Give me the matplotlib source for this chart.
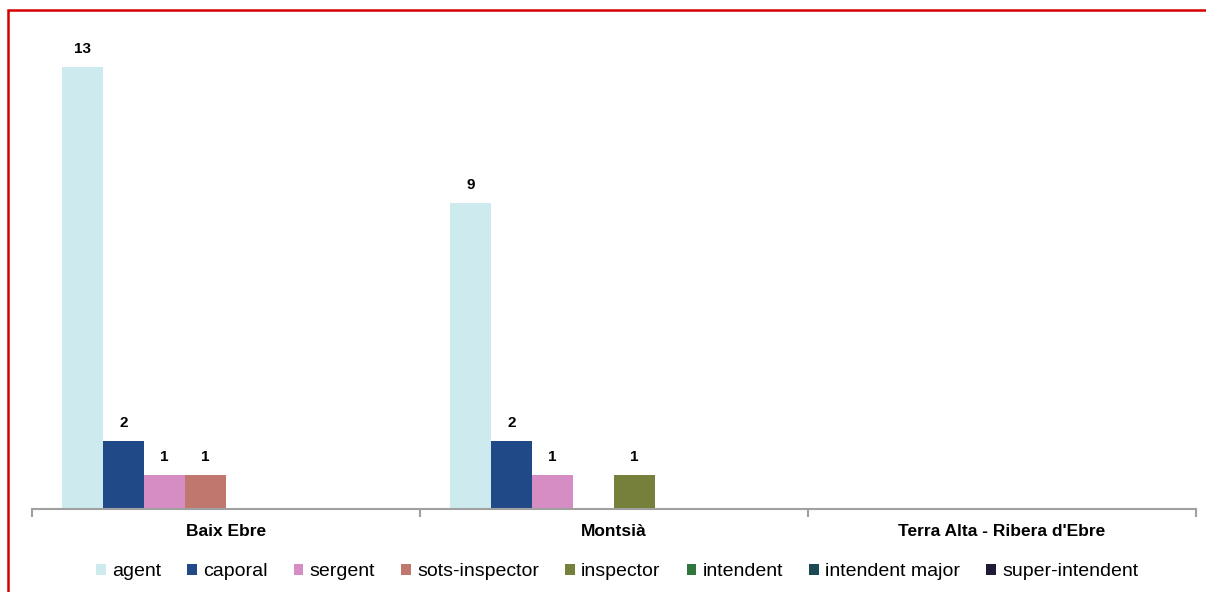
import matplotlib
matplotlib.use('Agg')
import matplotlib.pyplot as plt
import numpy as np
from matplotlib.patches import Rectangle

plt.rcParams['font.family'] = ['Liberation Sans', 'DejaVu Sans']

categories = ['Baix Ebre', 'Montsià', "Terra Alta - Ribera d'Ebre"]
ranks = ['agent', 'caporal', 'sergent', 'sots-inspector', 'inspector',
         'intendent', 'intendent major', 'super-intendent']
agent = [13, 9, 0]
caporal = [2, 2, 0]
sergent = [1, 1, 0]
sots_inspector = [1, 0, 0]
inspector = [0, 1, 0]
intendent = [0, 0, 0]
intendent_major = [0, 0, 0]
super_intendent = [0, 0, 0]
series = [agent, caporal, sergent, sots_inspector, inspector,
          intendent, intendent_major, super_intendent]
colors = ['#CDEAEE', '#1F4A87', '#D58DC4', '#C0786E', '#76803A',
          '#2E763C', '#1B4A55', '#1E1B36']

W, H = 1206, 592
fig = plt.figure(figsize=(W / 100, H / 100), dpi=100)
ax = fig.add_axes([32 / W, 1 - 509 / H, (1196 - 32) / W, 476 / H])

n = len(series)
gap = 60 / 388
bw = (1 - gap) / n
x = np.arange(len(categories))
for i, (vals, name, c) in enumerate(zip(series, ranks, colors)):
    pos = x - (1 - gap) / 2 + bw * (i + 0.5)
    bars = ax.bar(pos, vals, width=bw, color=c, label=name, linewidth=0)
    for b, v in zip(bars, vals):
        if v:
            ax.annotate(str(v), (b.get_x() + b.get_width() / 2, v),
                        xytext=(0, 13), textcoords='offset points',
                        ha='center', va='center', fontsize=11, fontweight='bold')

ax.set_xlim(-0.5, len(categories) - 0.5)
ax.set_ylim(0, 14)
ax.set_yticks([])
for s in ['top', 'right', 'left']:
    ax.spines[s].set_visible(False)
ax.spines['bottom'].set_color('#A0A0A0')
ax.spines['bottom'].set_linewidth(1.5)
ax.set_xticks(np.arange(len(categories) + 1) - 0.5)
ax.set_xticklabels([])
ax.tick_params(axis='x', length=6, color='#A0A0A0', width=1.5)

# category names sit between the boundary ticks
for xi, cat in zip(x, categories):
    ax.annotate(cat, (xi, 0), xycoords=('data', 'axes fraction'),
                xytext=(0, -16), textcoords='offset points',
                ha='center', va='center', fontsize=12.5, fontweight='bold')

fig.legend(loc='center', bbox_to_anchor=(617 / W, 1 - 572 / H), ncol=n,
           frameon=False, fontsize=14, handlelength=0.51, handleheight=0.51,
           handletextpad=0.31, columnspacing=1.34, borderpad=0)

fig.patches.append(Rectangle((8 / W, -0.05), 1.2, 1 - 10 / H + 0.05,
                             transform=fig.transFigure, fill=False,
                             edgecolor='#D40000', linewidth=1.8))

fig.savefig('out.png', dpi=100)
